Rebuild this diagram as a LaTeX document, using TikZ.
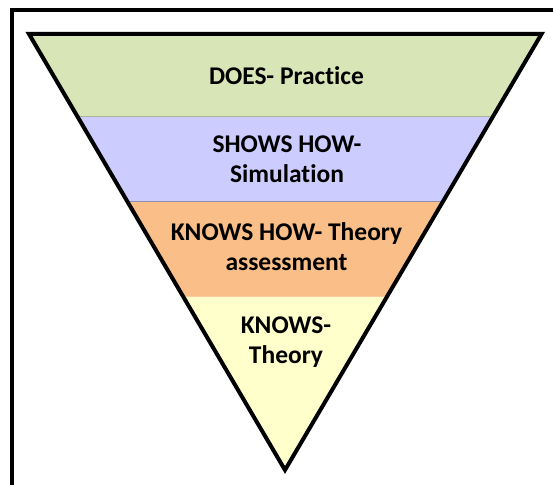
\documentclass[tikz,border=0pt]{standalone}
\usepackage{fontspec}
\setmainfont{Carlito}[Ligatures=NoCommon]
\usetikzlibrary{positioning}

\definecolor{doesgreen}{RGB}{216,229,183}
\definecolor{showsblue}{RGB}{204,204,255}
\definecolor{howorange}{RGB}{250,191,136}
\definecolor{knowsyellow}{RGB}{255,255,204}

\begin{document}
\begin{tikzpicture}[x=1pt, y=-1pt,
	frame/.style   = {draw, line width=3.7pt},
	outline/.style = {draw, line width=4pt, line join=miter},
	divider/.style = {line width=0.8pt},
	level/.style   = {font=\fontsize{25.5}{30}\selectfont\bfseries, align=center, inner sep=0pt},
	]
	
	\useasboundingbox (0,0) rectangle (553,484);
	
	% outer frame, runs off the page on the right and bottom
	\draw[frame] (12.2,10.2) rectangle (570,500);
	
	% corners of the funnel
	\coordinate (tl) at (29,34);
	\coordinate (tr) at (541.5,34);
	\coordinate (apex) at (285,470);
	
	% coloured bands, clipped to the funnel
	\begin{scope}
		\clip (tl) -- (tr) -- (apex) -- cycle;
		\foreach \top/\bot/\col in {0/116/doesgreen, 116/201.7/showsblue, 201.7/296.7/howorange, 296.7/484/knowsyellow}
		\fill[\col] (0,\top) rectangle (553,\bot);
		
		\draw[divider, doesgreen!70!black!80] (0,116) -- (553,116);
		\draw[divider, showsblue!70!black] (0,201.7) -- (553,201.7);
		\draw[divider, howorange!80!white] (0,296.7) -- (553,296.7);
	\end{scope}
	
	\draw[outline] (tl) -- (tr) -- (apex) -- cycle;
	
	% labels of the four levels
	\node[level] (does)  at (286.5,75.5)  {DOES- Practice};
	\node[level] (shows) at (287,159)     {SHOWS HOW-\\Simulation};
	\node[level] (how)   at (286.5,247)   {KNOWS HOW- Theory\\assessment};
	\node[level] (knows) at (286,342.5)   {KNOWS-\\Theory};
	
\end{tikzpicture}
\end{document}
